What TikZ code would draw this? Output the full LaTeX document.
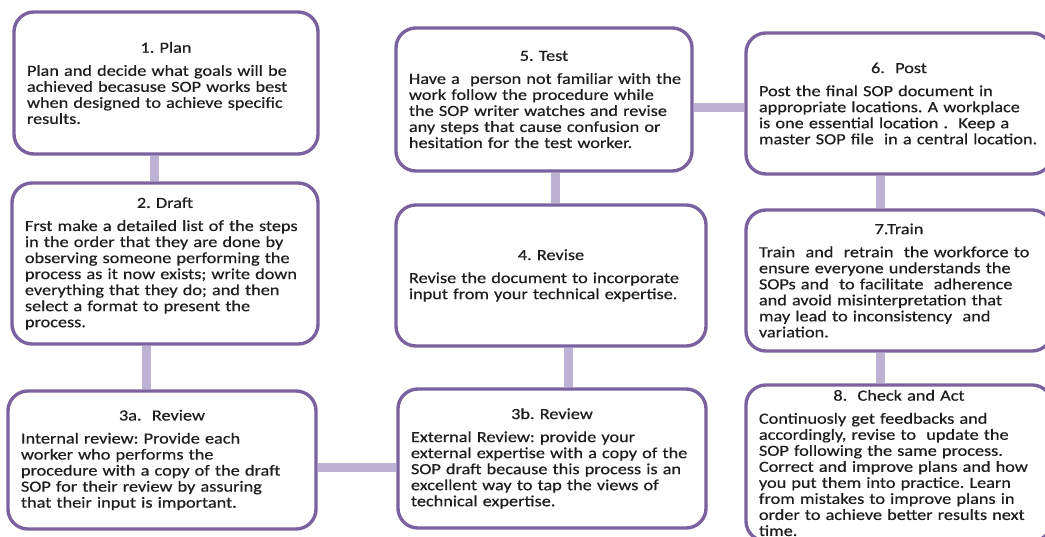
\documentclass[tikz,border=0pt]{standalone}
\usepackage{fontspec}
\setmainfont[FakeStretch=1.18,FakeBold=0.5]{Carlito}
\usepackage{xcolor}
\usetikzlibrary{shapes,positioning,backgrounds}

\definecolor{sopborder}{RGB}{122,98,160}
\definecolor{soplink}{RGB}{190,178,212}
\definecolor{soptext}{RGB}{30,30,30}

% title line of a step, then the body text
\newcommand{\steptitle}[1]{\centering #1\par\vspace{5pt}\raggedright\rightskip=0pt plus 1fil minus 1cm}

\begin{document}
\begin{tikzpicture}[x=0.025cm, y=-0.025cm,
    stepbox/.style={rectangle, draw=sopborder, line width=2.4pt, fill=white, rounded corners=5mm,
        inner xsep=0pt, inner ysep=2pt, text=soptext, font=\frenchspacing\fontsize{11}{11.4}\selectfont},
    link/.style={soplink, line width=6.4pt}]
    \useasboundingbox (0,0) rectangle (1045,537);
    \clip (0,0) rectangle (1045,537);

    % Nodes
    \node (plan) [stepbox, minimum width=7.6cm, minimum height=3.55cm, text width=6.95cm] at (166,83)
        {\steptitle{1. Plan}
        Plan and decide what goals will be\\
        achieved becasuse SOP works best\\
        when designed to achieve specific\\
        results.};

    \node (draft) [stepbox, minimum width=7.65cm, minimum height=4.025cm, text width=7cm] at (165,263.5)
        {\steptitle{2. Draft}
        Frst make a detailed list of the steps\\
        in the order that they are done by\\
        observing someone performing the\\
        process as it now exists; write down\\
        everything that they do; and then\\
        select a format to present the\\
        process.};

    \node (review3a) [stepbox, minimum width=7.7cm, minimum height=3.45cm, text width=7.05cm] at (162,460)
        {\steptitle{3a.\ \ Review}
        Internal review: Provide each\\
        worker who performs the\\
        procedure with a copy of the draft\\
        SOP for their review by assuring\\
        that their input is important.};

    \node (review3b) [stepbox, minimum width=7.7cm, minimum height=3.475cm, text width=7.05cm] at (552,458.5)
        {\steptitle{3b. Review}
        External Review: provide your\\
        external expertise with a copy of the\\
        SOP draft because this process is an\\
        excellent way to tap the views of\\
        technical expertise.};

    \node (revise) [stepbox, minimum width=7.75cm, minimum height=3.525cm, text width=7.1cm] at (551,275.5)
        {\steptitle{4. Revise}
        Revise the document to incorporate\\
        input from your technical expertise.};

    \node (test) [stepbox, minimum width=7.4cm, minimum height=3.575cm, text width=6.75cm] at (544,99.5)
        {\steptitle{5. Test}
        Have a\ \ person not familiar with the\\
        work follow the procedure while\\
        the SOP writer watches and revise\\
        any steps that cause confusion or\\
        hesitation for the test worker.};

    \node (post) [stepbox, minimum width=7.65cm, minimum height=3.525cm, text width=7cm] at (899,103.5)
        {\steptitle{6.\ \ Post}
        Post the final SOP document in\\
        appropriate locations. A workplace\\
        is one essential location .\ \ Keep a\\
        master SOP file\ \ in a central location.};

    \node (train) [stepbox, minimum width=7.65cm, minimum height=3.525cm, text width=7cm] at (899,280.5)
        {\steptitle{7.Train}
        Train\ \ and\ \ retrain\ \ the workforce to\\
        ensure everyone understands the\\
        SOPs and\ \ to facilitate\ \ adherence\\
        and avoid misinterpretation that\\
        may lead to inconsistency\ \ and\\
        variation.};

    \node (check) [stepbox, minimum width=7.65cm, minimum height=3.9cm, text width=7cm] at (899,463)
        {\steptitle{8.\ \ Check and Act}
        Continuosly get feedbacks and\\
        accordingly, revise to\ \ update the\\
        SOP following the same process.\\
        Correct and improve plans and how\\
        you put them into practice. Learn\\
        from mistakes to improve plans in\\
        order to achieve better results next\\
        time.};

    % Edges
    \begin{pgfonlayer}{background}
    \draw[link] ([xshift=-2.75mm]plan.south) -- ([xshift=-2.75mm]plan.south |- draft.north);
    \draw[link] ([xshift=-4.5mm]draft.south) -- ([xshift=-4.5mm]draft.south |- review3a.north);
    \draw[link] ([yshift=-1.75mm]review3a.east) -- ([yshift=-1.75mm]review3a.east -| review3b.west);
    \draw[link] ([xshift=4mm]review3b.north) -- ([xshift=4mm]review3b.north |- revise.south);
    \draw[link] ([xshift=1mm]revise.north) -- ([xshift=1mm]revise.north |- test.south);
    \draw[link] ([yshift=-1.9mm]test.east) -- ([yshift=-1.9mm]test.east -| post.west);
    \draw[link] ([xshift=-4.75mm]post.south) -- ([xshift=-4.75mm]post.south |- train.north);
    \draw[link] ([xshift=-4.75mm]train.south) -- ([xshift=-4.75mm]train.south |- check.north);
    \end{pgfonlayer}
\end{tikzpicture}
\end{document}
